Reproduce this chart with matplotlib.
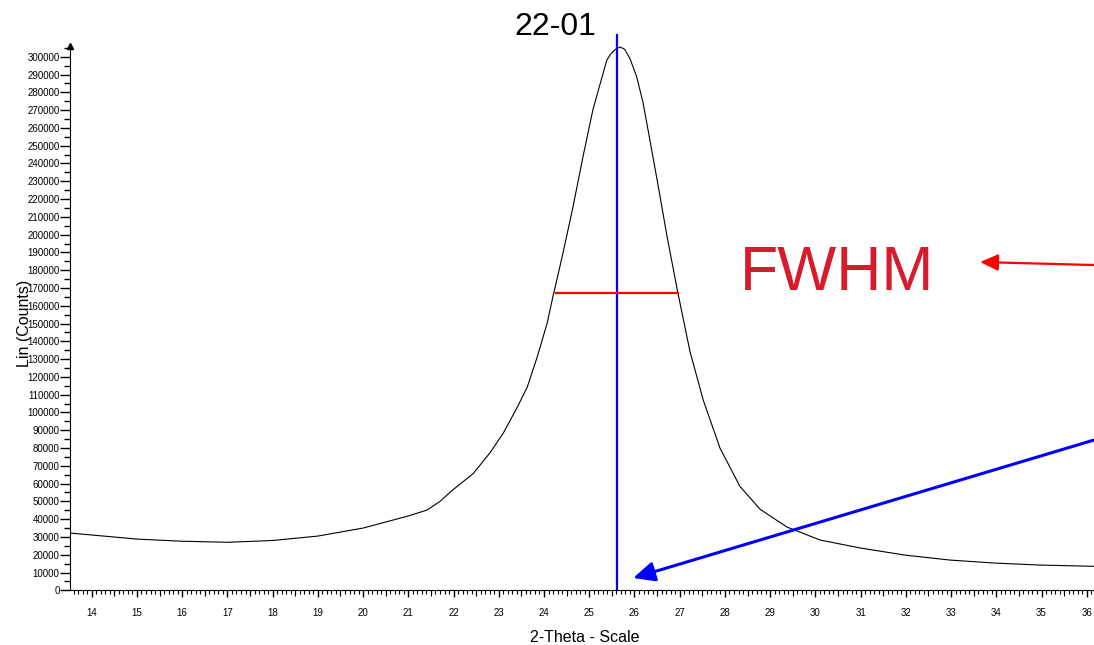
import numpy as np
import matplotlib
matplotlib.use("Agg")
import matplotlib.pyplot as plt
from matplotlib.ticker import MultipleLocator, FixedLocator, FuncFormatter

plt.rcParams["font.family"] = ["Liberation Sans", "DejaVu Sans"]

# ── data ─────────────────────────────────────────────────────────────────────
two_theta = [13.52, 14.0, 15.0, 16.0, 17.0, 18.0, 19.0, 20.0, 21.0, 21.41,
             21.70, 21.98, 22.43, 22.81, 23.10, 23.41, 23.63, 23.85, 24.07,
             24.18, 24.42, 24.64, 24.86, 25.08, 25.24, 25.39, 25.48, 25.58,
             25.68, 25.78, 25.90, 26.05, 26.19, 26.34, 26.52, 26.72, 26.96,
             27.23, 27.52, 27.89, 28.33, 28.78, 29.37, 30.10, 30.99, 31.98,
             32.98, 33.97, 34.97, 35.96, 36.16]
counts = [32200, 31100, 28800, 27600, 27000, 28000, 30500, 35000, 41800, 45100,
          50000, 56400, 65500, 77500, 88400, 103000, 114300, 131200, 150300,
          163200, 189700, 215500, 243600, 270100, 284700, 298200, 301800, 304200,
          305500, 304300, 299000, 288700, 274100, 253300, 228000, 199000, 167200,
          134000, 107000, 80000, 58500, 45500, 35600, 28300, 23800, 19800,
          17000, 15300, 14200, 13600, 13500]

peak_pos = 25.62
fwhm_left, fwhm_right, fwhm_level = 24.27, 26.96, 167000

y_ticks = np.arange(0, 300001, 10000)
y_minor = np.arange(5000, 305001, 10000)

x_min, x_max = 13.52, 36.16
y_top = 313000
axis_top = 306000

fig = plt.figure(figsize=(10.94, 6.45), dpi=100)
ax = fig.add_axes([0.064, 0.0848, 0.936, 0.863])

ax.plot(two_theta, counts, color="black", lw=0.8)
ax.plot([peak_pos, peak_pos], [0, 312000], color="#0000ff", lw=1.6, clip_on=False)
ax.plot([fwhm_left, fwhm_right], [fwhm_level, fwhm_level], color="#ff0000", lw=1.6)

ax.set_xlim(x_min, x_max)
ax.set_ylim(0, y_top)

for s in ["top", "right"]:
    ax.spines[s].set_visible(False)
ax.spines["left"].set_bounds(0, axis_top)
ax.plot([x_min], [axis_top], marker="^", ms=5, color="black", clip_on=False)

# ticks
ax.xaxis.set_major_locator(MultipleLocator(1))
ax.xaxis.set_minor_locator(MultipleLocator(0.1))
ax.yaxis.set_major_locator(FixedLocator(y_ticks))
ax.yaxis.set_minor_locator(FixedLocator(y_minor))
ax.yaxis.set_major_formatter(FuncFormatter(lambda v, p: f"{int(v)}"))
ax.tick_params(axis="x", which="major", length=5, width=1, pad=8, labelsize=7)
ax.tick_params(axis="x", which="minor", length=3, width=0.8)
ax.tick_params(axis="y", which="major", length=7, width=1, pad=0.5, labelsize=7)
ax.tick_params(axis="y", which="minor", length=4, width=1)

half = ax.secondary_xaxis("bottom")
half.set_xticks(np.arange(13.5, 36.6, 1.0))
half.tick_params(length=4.5, width=0.8, labelbottom=False)
half.spines["bottom"].set_visible(False)

ax.set_xlabel("2-Theta - Scale", fontsize=11.5)
ax.xaxis.set_label_coords(0.503, -0.072)
ax.set_ylabel("Lin (Counts)", fontsize=11.5)
ax.yaxis.set_label_coords(-0.037, 0.48)

fig.text(555 / 1094, 1 - 35 / 645, "22-01", fontsize=23, ha="center", va="baseline")

ax.text(30.48, 168800, "FWHM", color="#d81b2c", fontsize=45, ha="center", va="baseline")

ax.annotate("", xy=(33.64, 184600), xytext=(36.16, 182900),
            arrowprops=dict(arrowstyle="-|>,head_length=0.55,head_width=0.25",
                            mutation_scale=20, color="#ff0000", lw=1.6,
                            shrinkA=0, shrinkB=0),
            annotation_clip=False)
ax.annotate("", xy=(25.97, 6900), xytext=(36.16, 84500),
            arrowprops=dict(arrowstyle="-|>,head_length=0.65,head_width=0.3",
                            mutation_scale=20, color="#0000ff", lw=2.2,
                            shrinkA=0, shrinkB=0),
            annotation_clip=False)

fig.savefig("out.png", dpi=100)
